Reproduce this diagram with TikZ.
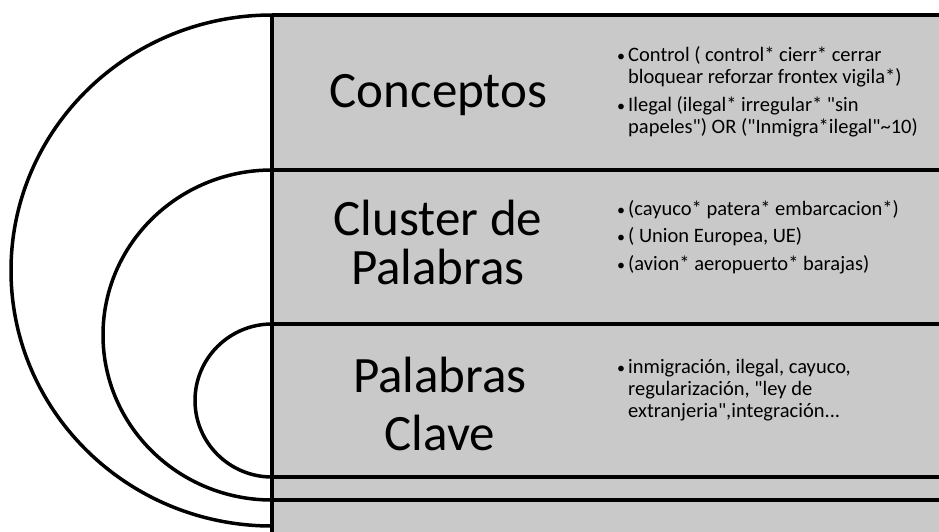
\documentclass[tikz,border=0pt]{standalone}
\usepackage{fontspec}
\setmainfont{Carlito}
\newcommand\itm[1]{\makebox[11pt][l]{\fontsize{16}{16}\selectfont\textbullet}#1}
\newcommand\cont[1]{\hspace*{11pt}#1}
\newcommand\qq{\textquotedbl}
\begin{document}
\begin{tikzpicture}[x=1pt,y=-1pt,line join=round,
	title/.style={align=center,anchor=base,inner sep=0pt,font=\fontsize{51}{58}\selectfont},
	items/.style={align=left,anchor=base west,inner sep=0pt,font=\fontsize{20.5}{22}\selectfont}]
	\def\xl{272}
	\def\xmax{939}
	\def\ymax{531}
	\useasboundingbox (0,0) rectangle (\xmax,\ymax);
	\clip (0,0) rectangle (\xmax,\ymax);
	\fill [black!21] (\xl,15) rectangle (\xmax+5,\ymax+5);
	% arcos
	\begin{scope}
		\clip (0,0) rectangle (\xl,\ymax+5);
		\draw [line width=3.5pt] (\xl,270.5) ellipse [x radius=261, y radius=255.5] (\xl,335) ellipse [x radius=169, y radius=165] (\xl,400.5) ellipse [x radius=77, y radius=76.5];
	\end{scope}
	\draw [line width=3.5pt] (\xl,15)--(\xmax+5,15) (\xl,170)--(\xmax+5,170) (\xl,324)--(\xmax+5,324) (\xl,477)--(\xmax+5,477) (\xl,500)--(\xmax+5,500);
	\draw [line width=3.5pt] (\xl,15)--(\xl,\ymax+5);
	% textos (anchor base = ultima linea)
	\node [title] (conc) at (438.5,107) {Conceptos};
	\node [title] (clus) at (438,284) {Cluster de\\[-9pt]Palabras};
	\node [title] (clave) at (440,450) {Palabras\\Clave};
	\node [items] (lconc) at (617,133) {\itm{Control ( control* cierr* cerrar}\\\cont{bloquear reforzar frontex vigila*)}\\[6pt]\itm{Ilegal (ilegal* irregular* \qq sin}\\\cont{papeles\qq) OR (\qq Inmigra*ilegal\qq\textasciitilde 10)}};
	\node [items] (lclus) at (617,270) {\itm{(cayuco* patera* embarcacion*)}\\[5.5pt]\itm{( Union Europea, UE)}\\[5.5pt]\itm{(avion* aeropuerto* barajas)}};
	\node [items] (lclave) at (617,417) {\itm{inmigración, ilegal, cayuco,}\\\cont{regularización, \qq ley de}\\\cont{extranjeria\qq,integración...}};
\end{tikzpicture}
\end{document}
